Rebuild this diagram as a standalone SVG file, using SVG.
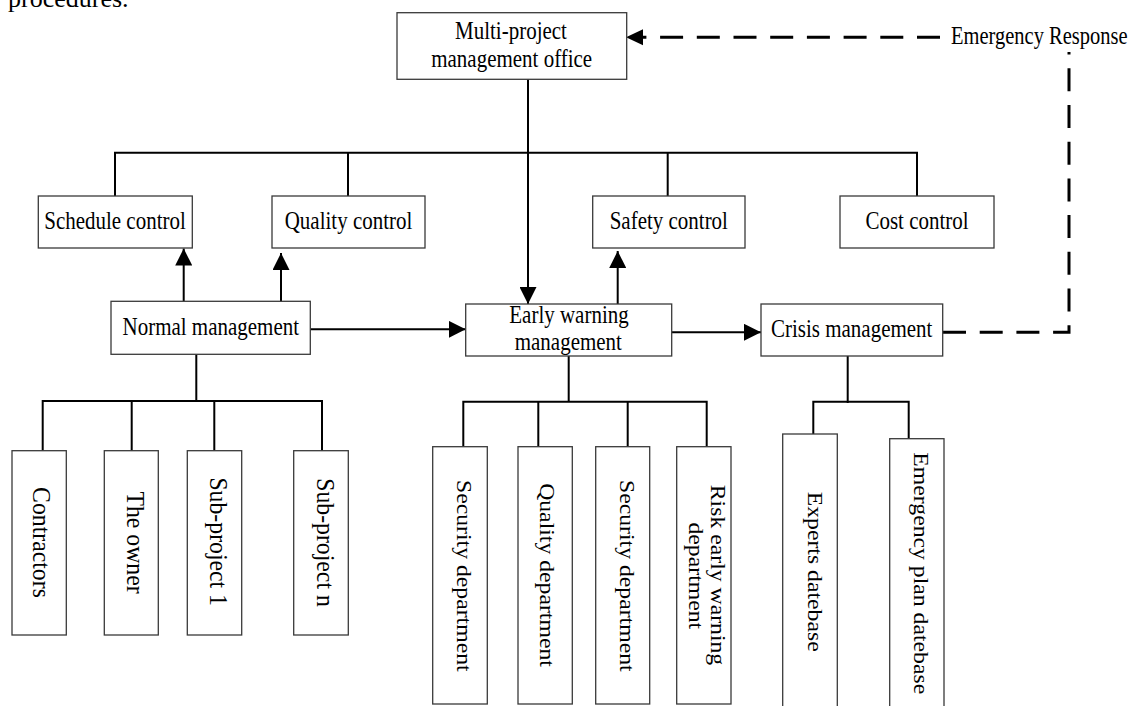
<svg xmlns="http://www.w3.org/2000/svg" width="1135" height="706" viewBox="0 0 1135 706">
<style>
.box{fill:#fff;stroke:#3a3a3a;stroke-width:1.3}
.ln{fill:none;stroke:#000;stroke-width:2}
.dash{fill:none;stroke:#000;stroke-width:3;stroke-dasharray:23 13.7}
text{font-family:"Liberation Serif","Times New Roman",serif;fill:#000}
.h{font-size:25.5px;text-anchor:middle}
.v{font-size:25px;text-anchor:middle}
.vs{font-size:21px;text-anchor:middle}
</style>
<defs>
<marker id="arr" markerUnits="userSpaceOnUse" markerWidth="17" markerHeight="17" refX="16" refY="8" orient="auto" viewBox="0 0 16 16">
<path d="M0,0 L16,8 L0,16 z" fill="#000"/>
</marker>
</defs>
<rect width="1135" height="706" fill="#fff"/>
<text x="8" y="6.5" style="font-size:26px">procedures.</text>

<g id="connectors">
<path class="ln" d="M115,196 V152.7 H917 V196 M348,152.7 V196 M667.7,152.7 V196"/>
<path class="ln" d="M528,79.3 V304" marker-end="url(#arr)"/>
<path class="ln" d="M183.7,301.3 V248.5" marker-end="url(#arr)"/>
<path class="ln" d="M281,304 V253" marker-end="url(#arr)"/>
<path class="ln" d="M617.7,304 V251" marker-end="url(#arr)"/>
<path class="ln" d="M310.3,329.3 H465.7" marker-end="url(#arr)"/>
<path class="ln" d="M671.7,332.3 H761" marker-end="url(#arr)"/>
<path class="dash" d="M943,332.3 H1069 V52"/>
<path class="dash" d="M940,37.3 H643"/>
<path d="M626,37.3 L643,29.3 L643,45.3 z" fill="#000"/>
<path class="ln" d="M196.3,354.3 V401 M42.7,450.7 V401 H322 V450.7 M131.7,401 V450.7 M214.3,401 V450.7"/>
<path class="ln" d="M568.7,356 V401.7 M463.3,446.7 V401.7 H706.7 V446.7 M538.3,401.7 V446.7 M627.7,401.7 V446.7"/>
<path class="ln" d="M847.7,356 V403 M813.3,434 V401.7 H908.7 V438.7"/>
</g>

<g id="office">
<rect class="box" x="397" y="12.7" width="229.7" height="66.6"/>
<text class="h" transform="translate(511,38.7) scale(0.823,1)">Multi-project</text>
<text class="h" transform="translate(511.7,67) scale(0.823,1)">management office</text>
</g>
<text id="emergency-response" transform="translate(951,43.5) scale(0.84,1)" style="font-size:24.4px">Emergency Response</text>

<g id="schedule-control">
<rect class="box" x="38.3" y="196" width="154" height="52"/>
<text class="h" transform="translate(115,229.3) scale(0.823,1)">Schedule control</text>
</g>
<g id="quality-control">
<rect class="box" x="272" y="196" width="153" height="52"/>
<text class="h" transform="translate(348.5,229.3) scale(0.823,1)">Quality control</text>
</g>
<g id="safety-control">
<rect class="box" x="592.7" y="196" width="152.3" height="52"/>
<text class="h" transform="translate(668.8,229.3) scale(0.823,1)">Safety control</text>
</g>
<g id="cost-control">
<rect class="box" x="840" y="196" width="154" height="52"/>
<text class="h" transform="translate(917,229.3) scale(0.823,1)">Cost control</text>
</g>

<g id="normal-management">
<rect class="box" x="111" y="301.3" width="199.3" height="53"/>
<text class="h" transform="translate(210.8,335) scale(0.823,1)">Normal management</text>
</g>
<g id="early-warning">
<rect class="box" x="465.7" y="304" width="206" height="52"/>
<text class="h" transform="translate(569,322.7) scale(0.823,1)">Early warning</text>
<text class="h" transform="translate(568.3,350) scale(0.823,1)">management</text>
</g>
<g id="crisis-management">
<rect class="box" x="761" y="304" width="181.7" height="52"/>
<text class="h" transform="translate(851.7,336.7) scale(0.823,1)">Crisis management</text>
</g>

<g id="contractors">
<rect class="box" x="12" y="450.7" width="54.3" height="184.3"/>
<text class="v" transform="translate(33,542.5) rotate(90) scale(0.95,1)">Contractors</text>
</g>
<g id="the-owner">
<rect class="box" x="104.3" y="450.7" width="54" height="184.3"/>
<text class="v" transform="translate(126.5,542.5) rotate(90) scale(0.95,1)">The owner</text>
</g>
<g id="sub-project-1">
<rect class="box" x="187.3" y="450.7" width="54.4" height="184.3"/>
<text class="v" transform="translate(210.4,541.7) rotate(90) scale(0.95,1)">Sub-project 1</text>
</g>
<g id="sub-project-n">
<rect class="box" x="293.7" y="450.7" width="54.6" height="184.3"/>
<text class="v" transform="translate(317,542.5) rotate(90) scale(0.95,1)">Sub-project n</text>
</g>

<g id="security-department-1">
<rect class="box" x="432.7" y="446.7" width="54.6" height="257.3"/>
<text class="vs" transform="translate(456.5,575.8) rotate(90) scale(1.13,1)">Security department</text>
</g>
<g id="quality-department">
<rect class="box" x="518" y="446.7" width="54.3" height="257.3"/>
<text class="vs" transform="translate(539.5,575) rotate(90) scale(1.13,1)">Quality department</text>
</g>
<g id="security-department-2">
<rect class="box" x="595.7" y="446.7" width="54" height="257.3"/>
<text class="vs" transform="translate(620,575.8) rotate(90) scale(1.13,1)">Security department</text>
</g>
<g id="risk-early-warning">
<rect class="box" x="676.7" y="446.7" width="54.3" height="257.3"/>
<text class="vs" transform="translate(711,575) rotate(90) scale(1.13,1)">Risk early warning</text>
<text class="vs" transform="translate(689,575.8) rotate(90) scale(1.13,1)">department</text>
</g>

<g id="experts-datebase">
<rect class="box" x="782.7" y="434" width="54.6" height="280"/>
<text class="vs" transform="translate(807.5,571.7) rotate(90) scale(1.13,1)">Experts datebase</text>
</g>
<g id="emergency-plan-datebase">
<rect class="box" x="889.7" y="438.7" width="54.3" height="280"/>
<text class="vs" transform="translate(914,573.3) rotate(90) scale(1.13,1)">Emergency plan datebase</text>
</g>
</svg>
